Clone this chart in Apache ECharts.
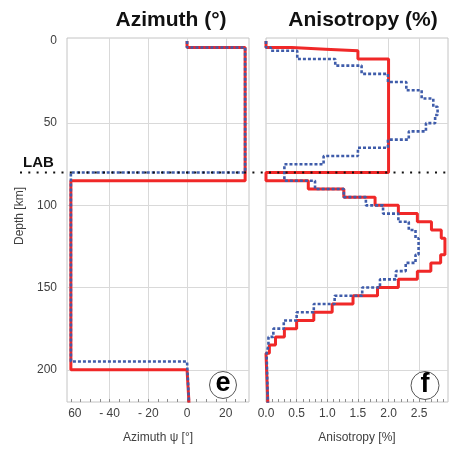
<!DOCTYPE html>
<html>
<head>
<meta charset="utf-8">
<script src="https://cdn.jsdelivr.net/npm/echarts@6/dist/echarts.min.js"></script>
<style>
  html, body { margin: 0; padding: 0; background: #fff; }
  #box { width: 456px; height: 449px; }
</style>
</head>
<body>
<div id="box"></div>
<script>
// depth axis
var depthMin = -1.8, depthMax = 219.6;
var depthLabels = [0, 50, 100, 150, 200];
var depthGrid = [50, 100, 150, 200];
var labDepth = 80;

// azimuth profiles (step intervals: value holds from depth[i] to depth[i+1])
var aziDepthRed = [0, 4, 85, 200, 220];
var aziRed = [0, 30, -60, 0];
var aziDepthBlue = [0, 4, 80, 195, 220];
var aziBlue = [0, 30, -60, 0];
var aziEnd = 1;
var aziTicks = [-60, -40, -20, 0, 20];
var aziGrid = [-40, -20, 0, 20];

// anisotropy profiles
var aniDepthRed = [0, 4, 5, 6, 11, 80, 85, 90, 95, 100, 105, 110, 115, 120, 130, 135, 140, 145, 150, 155, 160, 165, 170, 175, 180, 185, 190, 220];
var aniRed = [0, 0.42, 0.97, 1.5, 2.0, 0, 0.69, 1.27, 1.78, 2.16, 2.47, 2.70, 2.86, 2.92, 2.85, 2.69, 2.47, 2.16, 1.82, 1.42, 1.08, 0.78, 0.5, 0.3, 0.155, 0.055, 0];
var aniDepthBlue = [0, 4, 6, 11, 15, 20, 25, 30, 35, 40, 45, 50, 55, 60, 65, 70, 75, 85, 90, 95, 100, 105, 110, 115, 120, 130, 135, 140, 145, 150, 155, 160, 165, 170, 175, 180, 185, 190, 220];
var aniBlue = [0, 0.08, 0.51, 1.13, 1.56, 1.99, 2.29, 2.54, 2.73, 2.80, 2.76, 2.61, 2.33, 1.99, 1.5, 0.94, 0.30, 0.80, 1.27, 1.63, 1.91, 2.16, 2.33, 2.44, 2.49, 2.44, 2.28, 2.12, 1.86, 1.57, 1.12, 0.78, 0.50, 0.29, 0.12, 0.04, 0.01, 0];
var aniEnd = 0.03;
var aniTicks = [0, 0.5, 1.0, 1.5, 2.0, 2.5];
var aniGrid = [0.5, 1.0, 1.5, 2.0, 2.5];

var red = '#F02828', blue = '#3F5CAA';

function stepPath(depths, values, endValue) {
  var pts = [];
  for (var i = 0; i < values.length; i++) {
    pts.push([values[i], depths[i]]);
    if (i < values.length - 1) pts.push([values[i], depths[i + 1]]);
  }
  pts.push([endValue, depths[depths.length - 1]]);
  return pts;
}
function range(a, b, step) {
  var out = [];
  for (var v = a; v <= b + 1e-9; v += step) out.push(Math.round(v * 100) / 100);
  return out;
}

var chartDom = document.getElementById('box');
var myChart = echarts.init(chartDom);
var labelStyle = { color: '#404040', fontSize: 12, fontFamily: 'Liberation Sans' };
var gridLine = { show: true, lineStyle: { color: '#d9d9d9', width: 1 } };

function yAxis(gridIndex, showLabels) {
  return {
    type: 'value', gridIndex: gridIndex, inverse: true, min: depthMin, max: depthMax,
    name: showLabels ? 'Depth [km]' : '', nameLocation: 'middle', nameGap: 41, nameRotate: 90,
    nameTextStyle: { color: '#404040', fontSize: 12, fontFamily: 'Liberation Sans', padding: [0, 0, 0, 8] },
    axisLine: { show: false },
    axisTick: { show: false, customValues: depthGrid },
    axisLabel: Object.assign({ show: showLabels, margin: 10, customValues: depthLabels }, labelStyle),
    splitLine: gridLine
  };
}
function xMain(gridIndex, min, max, labels, grid, name, fmt) {
  return {
    type: 'value', gridIndex: gridIndex, min: min, max: max, position: 'bottom',
    name: name, nameLocation: 'middle', nameGap: 30,
    nameTextStyle: { color: '#404040', fontSize: 12, fontFamily: 'Liberation Sans' },
    axisLine: { show: false },
    axisTick: { show: false, customValues: grid },
    axisLabel: Object.assign({ margin: 6, customValues: labels, formatter: fmt,
      rich: { p: { padding: [0, 0, 0, 8], color: '#404040', fontSize: 12, fontFamily: 'Liberation Sans' } } }, labelStyle),
    splitLine: gridLine
  };
}
function xMinor(gridIndex, min, max, ticks) {
  return {
    type: 'value', gridIndex: gridIndex, min: min, max: max, position: 'bottom',
    axisLine: { show: false },
    axisTick: { show: true, inside: true, length: 3, customValues: ticks, lineStyle: { color: '#8c8c8c' } },
    axisLabel: { show: false },
    splitLine: { show: false }
  };
}

var option = {
  animation: false,
  title: [
    { text: 'Azimuth (°)', left: 171, top: 10, textAlign: 'center', padding: 0,
      textStyle: { fontSize: 21, fontWeight: 'bold', color: '#111', fontFamily: 'Liberation Sans' } },
    { text: 'Anisotropy (%)', left: 363, top: 10, textAlign: 'center', padding: 0,
      textStyle: { fontSize: 21, fontWeight: 'bold', color: '#111', fontFamily: 'Liberation Sans' } }
  ],
  grid: [
    { left: 67, right: 207, top: 38, bottom: 47, show: true, borderColor: '#c4c4c4', borderWidth: 1 },
    { left: 266, right: 8, top: 38, bottom: 47, show: true, borderColor: '#c4c4c4', borderWidth: 1 }
  ],
  xAxis: [
    xMain(0, -62, 32, aziTicks, aziGrid, 'Azimuth ψ [°]', function (v) {
      if (v === -60) return '{p|60}';
      return v < 0 ? '- ' + Math.abs(v) : String(v);
    }),
    xMain(1, 0, 2.97, aniTicks, aniGrid, 'Anisotropy [%]', function (v) { return v.toFixed(1); }),
    xMinor(0, -62, 32, range(-60, 30, 5)),
    xMinor(1, 0, 2.97, range(0, 2.9, 0.1))
  ],
  yAxis: [yAxis(0, true), yAxis(1, false)],
  series: [
    { name: 'aziRed', type: 'line', xAxisIndex: 0, yAxisIndex: 0, showSymbol: false,
      lineStyle: { color: red, width: 3 }, data: stepPath(aziDepthRed, aziRed, aziEnd) },
    { name: 'aziBlue', type: 'line', xAxisIndex: 0, yAxisIndex: 0, showSymbol: false,
      lineStyle: { color: blue, width: 2.6, type: [3, 2] }, data: stepPath(aziDepthBlue, aziBlue, aziEnd) },
    { name: 'aniRed', type: 'line', xAxisIndex: 1, yAxisIndex: 1, showSymbol: false,
      lineStyle: { color: red, width: 3 }, data: stepPath(aniDepthRed, aniRed, aniEnd) },
    { name: 'aniBlue', type: 'line', xAxisIndex: 1, yAxisIndex: 1, showSymbol: false,
      lineStyle: { color: blue, width: 2.6, type: [3, 2] }, data: stepPath(aniDepthBlue, aniBlue, aniEnd) }
  ]
};
myChart.setOption(option);

// LAB line across both panels
var labY = myChart.convertToPixel({ yAxisIndex: 0 }, labDepth);
myChart.setOption({
  graphic: [
    { type: 'line', shape: { x1: 20, y1: labY, x2: 446, y2: labY }, z: 100,
      style: { stroke: '#111', lineWidth: 2, lineDash: [2, 6.3] } },
    { type: 'text', x: 23, y: labY - 10, z: 100,
      style: { text: 'LAB', fill: '#111', font: 'bold 15px Liberation Sans', textVerticalAlign: 'middle' } },
    { type: 'circle', shape: { cx: 223, cy: 385, r: 13.5 }, z: 100,
      style: { fill: '#fff', stroke: '#555', lineWidth: 1 } },
    { type: 'text', x: 223, y: 384, z: 101,
      style: { text: 'e', fill: '#000', font: 'bold 27px Liberation Sans', textAlign: 'center', textVerticalAlign: 'middle' } },
    { type: 'circle', shape: { cx: 425, cy: 385.5, r: 14 }, z: 100,
      style: { fill: '#fff', stroke: '#555', lineWidth: 1 } },
    { type: 'text', x: 425, y: 385, z: 101,
      style: { text: 'f', fill: '#000', font: 'bold 27px Liberation Sans', textAlign: 'center', textVerticalAlign: 'middle' } }
  ]
});
</script>
</body>
</html>
